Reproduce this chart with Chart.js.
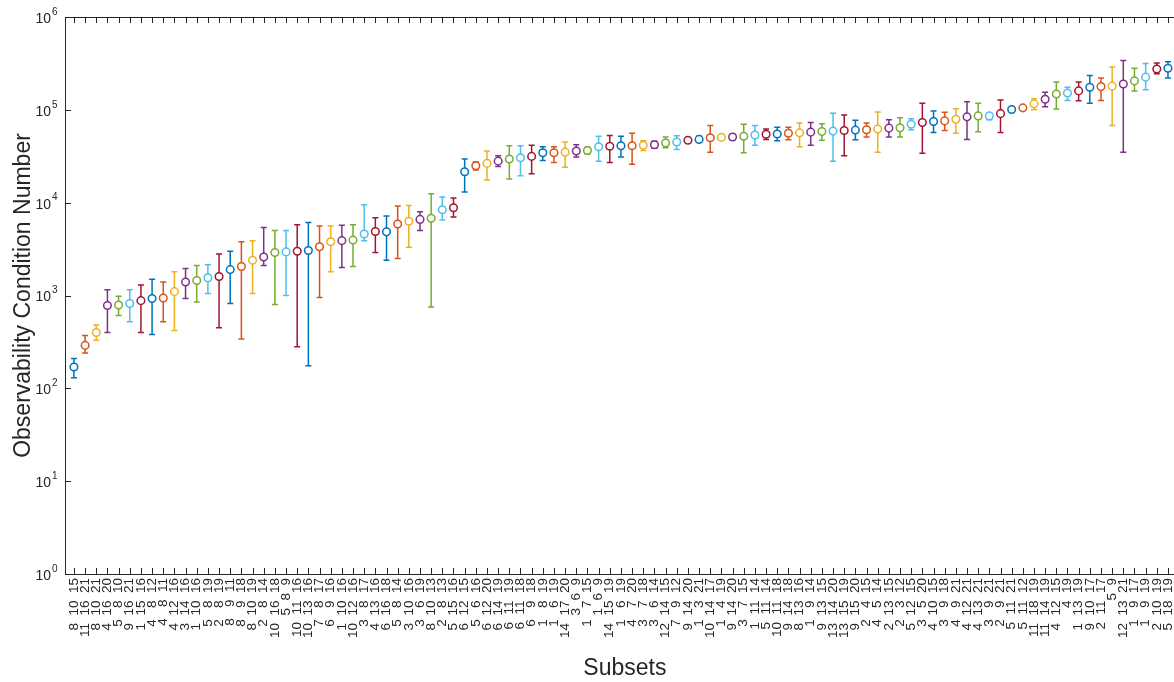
<!DOCTYPE html>
<html>
<head>
<meta charset="utf-8">
<script src="https://cdn.jsdelivr.net/npm/chart.js@4.4.0/dist/chart.umd.min.js"></script>
<style>
html, body { margin: 0; padding: 0; background: #fff; overflow: hidden; }
#wrap { width: 1190px; height: 682px; }
</style>
</head>
<body>
<div id="wrap"><canvas id="chart" width="1190" height="682"></canvas></div>
<script>
// subsets on the x axis
var subsets = [
    [8,10,15],[11,16,21],[8,10,21],[4,16,20],[5,8,10],[9,16,21],[1,15,16],[4,8,12],[4,8,11],[4,12,16],
    [3,14,16],[1,10,16],[5,8,19],[2,8,19],[8,9,11],[8,9,18],[8,10,19],[2,8,14],[10,16,18],[5,8,9],
    [10,11,16],[10,13,16],[7,8,17],[6,9,16],[1,10,16],[10,12,16],[3,8,17],[4,13,16],[6,16,18],[5,8,14],
    [3,10,16],[3,6,19],[8,10,13],[2,8,13],[5,15,16],[6,12,15],[5,6,16],[6,12,20],[6,14,19],[6,11,19],
    [6,11,18],[6,9,18],[1,8,19],[1,6,19],[14,17,20],[3,6,9],[1,7,15],[1,6,9],[14,15,19],[1,6,19],
    [4,7,20],[3,7,18],[3,6,14],[12,14,15],[7,9,12],[9,14,20],[1,3,21],[10,14,17],[1,4,19],[9,14,20],
    [3,7,15],[1,11,14],[5,11,14],[10,11,18],[9,14,18],[8,13,16],[1,9,14],[9,13,15],[13,14,20],[13,15,19],
    [9,15,20],[2,4,15],[4,5,14],[2,13,15],[2,3,12],[5,12,15],[3,5,20],[4,10,15],[3,9,18],[4,9,21],
    [4,12,21],[4,13,21],[3,9,21],[2,9,21],[5,11,21],[5,11,12],[11,18,19],[11,14,19],[4,12,15],[4,19],
    [1,13,19],[9,10,17],[2,11,17],[5,9],[12,13,21],[1,9,17],[1,9,19],[2,10,19],[5,18,19]
];

// condition number (marker) and error bar ends
var condValues = [
    170, 290, 400, 780, 790, 820, 880, 930, 940, 1100,
    1400, 1450, 1550, 1600, 1900, 2050, 2400, 2600, 2900, 2950,
    3000, 3050, 3350, 3800, 3900, 3950, 4600, 4900, 4850, 5900,
    6300, 6600, 6800, 8400, 8800, 21500, 25000, 26500, 28000, 29500,
    30500, 31500, 34500, 34500, 35000, 36000, 36500, 40000, 40500, 41000,
    41000, 41500, 42000, 44000, 45000, 47000, 48000, 50000, 50500, 51000,
    52000, 53500, 54500, 55000, 56000, 56500, 57500, 58500, 59000, 60000,
    60500, 61000, 62000, 63500, 64000, 70000, 73000, 75000, 76000, 79000,
    84000, 86000, 86000, 91000, 101000, 105000, 116000, 130000, 148000, 152000,
    160000, 175000, 178000, 180000, 190000, 205000, 225000, 275000, 280000
];
var lowerBounds = [
    130, 240, 330, 400, 610, 520, 400, 380, 520, 420,
    930, 850, 1050, 450, 820, 340, 1050, 2100, 800, 1000,
    280, 175, 950, 1800, 2000, 2050, 3900, 2900, 2400, 2500,
    3300, 5000, 750, 6500, 7000, 13000, 22500, 17500, 24500, 18000,
    19500, 20500, 28500, 27000, 24000, 31000, 33500, 28000, 27000, 31000,
    26000, 36500, 38500, 39000, 37500, 44500, 45500, 35000, 48500, 47500,
    34500, 41500, 48000, 46500, 47500, 40000, 41500, 47000, 28000, 32000,
    47500, 51000, 35000, 51000, 51000, 61000, 34000, 57000, 60000, 56000,
    48000, 58000, 78000, 57000, 99000, 102000, 100000, 108000, 102000, 126000,
    125000, 118000, 126000, 68000, 35000, 160000, 165000, 245000, 220000
];
var upperBounds = [
    210, 370, 480, 1150, 980, 1150, 1300, 1500, 1400, 1800,
    1950, 2100, 2150, 2800, 3000, 3800, 3900, 5400, 5000, 5000,
    5800, 6100, 5600, 5600, 5700, 5800, 9500, 6900, 7200, 9200,
    9300, 8000, 12500, 11500, 11200, 29500, 27500, 36000, 32000, 41000,
    41000, 41500, 40000, 40000, 45000, 42000, 39500, 52000, 53000, 52000,
    56000, 46500, 46000, 51000, 52500, 50000, 52000, 68000, 53000, 54500,
    70000, 68000, 62000, 65000, 65000, 72000, 73000, 71000, 92000, 88000,
    77000, 72000, 95000, 78000, 82000, 80000, 118000, 97000, 94000, 103000,
    122000, 118000, 93000, 128000, 105000, 110000, 132000, 155000, 200000, 175000,
    200000, 235000, 220000, 290000, 340000, 280000, 315000, 320000, 330000
];

var yTicks = [1, 10, 100, 1000, 10000, 100000, 1000000];
var lineColors = ['#0072BD', '#D95319', '#EDB120', '#7E2F8E', '#77AC30', '#4DBEEE', '#A2142F'];
var axisColor = '#262626';

// like num2str on a row vector
function subsetLabel(s) {
    var w = String(Math.max.apply(null, s)).length + 2;
    var str = s.map(function(v) {
        var t = String(v);
        while(t.length < w) {
            t = ' ' + t;
        }
        return t;
    }).join('');
    return str.trim();
}

var points = [];
var colors = [];
for(var i = 0; i < condValues.length; i++) {
    points.push({x: i + 1, y: condValues[i]});
    colors.push(lineColors[i % lineColors.length]);
}

// error bars under the markers
var errorBarPlugin = {
    id: 'errorBars',
    beforeDatasetsDraw: function(chart) {
        var ctx = chart.ctx;
        var xs = chart.scales.x, ys = chart.scales.y;
        ctx.save();
        ctx.lineWidth = 1.5;
        for(var i = 0; i < condValues.length; i++) {
            var x = xs.getPixelForValue(i + 1);
            var yLo = ys.getPixelForValue(lowerBounds[i]);
            var yHi = ys.getPixelForValue(upperBounds[i]);
            ctx.strokeStyle = colors[i];
            ctx.beginPath();
            ctx.moveTo(x, yLo);
            ctx.lineTo(x, yHi);
            ctx.moveTo(x - 3, yLo);
            ctx.lineTo(x + 3, yLo);
            ctx.moveTo(x - 3, yHi);
            ctx.lineTo(x + 3, yHi);
            ctx.stroke();
        }
        ctx.restore();
    }
};

// matlab style box, inward ticks, 10^n labels
var boxPlugin = {
    id: 'box',
    afterDraw: function(chart) {
        var a = chart.chartArea, ctx = chart.ctx;
        var xs = chart.scales.x, ys = chart.scales.y;
        ctx.save();
        ctx.strokeStyle = axisColor;
        ctx.lineWidth = 1;
        ctx.strokeRect(a.left + 0.5, a.top + 0.5, a.right - a.left, a.bottom - a.top);
        ctx.beginPath();
        for(var i = 0; i < subsets.length; i++) {
            var x = Math.round(xs.getPixelForValue(i + 1)) + 0.5;
            ctx.moveTo(x, a.bottom);
            ctx.lineTo(x, a.bottom - 6);
            ctx.moveTo(x, a.top);
            ctx.lineTo(x, a.top + 6);
        }
        yTicks.forEach(function(v) {
            var y = Math.round(ys.getPixelForValue(v)) + 0.5;
            ctx.moveTo(a.left, y);
            ctx.lineTo(a.left + 6, y);
            ctx.moveTo(a.right, y);
            ctx.lineTo(a.right - 6, y);
        });
        ctx.stroke();

        ctx.fillStyle = axisColor;
        ctx.textBaseline = 'middle';
        yTicks.forEach(function(v) {
            var y = ys.getPixelForValue(v);
            var exp = String(Math.round(Math.log10(v)));
            ctx.font = '14px "Liberation Sans", Arial, sans-serif';
            ctx.textAlign = 'right';
            ctx.fillText('10', a.left - 14, y + 2);
            ctx.font = '10px "Liberation Sans", Arial, sans-serif';
            ctx.textAlign = 'left';
            ctx.fillText(exp, a.left - 13, y - 5);
        });
        ctx.restore();
    }
};

new Chart(document.getElementById('chart'), {
    type: 'scatter',
    data: {
        datasets: [{
            data: points,
            pointStyle: 'circle',
            pointRadius: 3.8,
            pointHoverRadius: 3.8,
            pointBorderWidth: 1.5,
            pointBorderColor: colors,
            pointBackgroundColor: '#ffffff',
            showLine: false
        }]
    },
    options: {
        responsive: false,
        animation: false,
        devicePixelRatio: 1,
        layout: {
            padding: {top: 17, right: 5, bottom: 0, left: 0}
        },
        plugins: {
            legend: {display: false},
            tooltip: {enabled: false}
        },
        scales: {
            x: {
                type: 'linear',
                min: 0.2,
                max: 100.5,
                grid: {display: false, drawTicks: false},
                border: {display: false},
                afterBuildTicks: function(scale) {
                    scale.ticks = subsets.map(function(s, i) {
                        return {value: i + 1};
                    });
                },
                afterFit: function(scale) {
                    scale.height = 108;
                },
                ticks: {
                    autoSkip: false,
                    maxRotation: 90,
                    minRotation: 90,
                    padding: 4,
                    color: axisColor,
                    font: {family: '"Liberation Sans", Arial, sans-serif', size: 13.5},
                    callback: function(value) {
                        var s = subsets[Math.round(value) - 1];
                        return s ? subsetLabel(s) : '';
                    }
                },
                title: {
                    display: true,
                    text: 'Subsets',
                    color: axisColor,
                    padding: {top: 0, bottom: 0},
                    font: {family: '"Liberation Sans", Arial, sans-serif', size: 23, lineHeight: 1.2}
                }
            },
            y: {
                type: 'logarithmic',
                min: 1,
                max: 1000000,
                grid: {display: false, drawTicks: false},
                border: {display: false},
                afterBuildTicks: function(scale) {
                    scale.ticks = yTicks.map(function(v) {
                        return {value: v};
                    });
                },
                afterFit: function(scale) {
                    scale.width = 65;
                },
                ticks: {display: false},
                title: {
                    display: true,
                    text: 'Observability Condition Number',
                    color: axisColor,
                    padding: {top: 10, bottom: 10},
                    font: {family: '"Liberation Sans", Arial, sans-serif', size: 23, lineHeight: 1.2}
                }
            }
        }
    },
    plugins: [errorBarPlugin, boxPlugin]
});
</script>
</body>
</html>
